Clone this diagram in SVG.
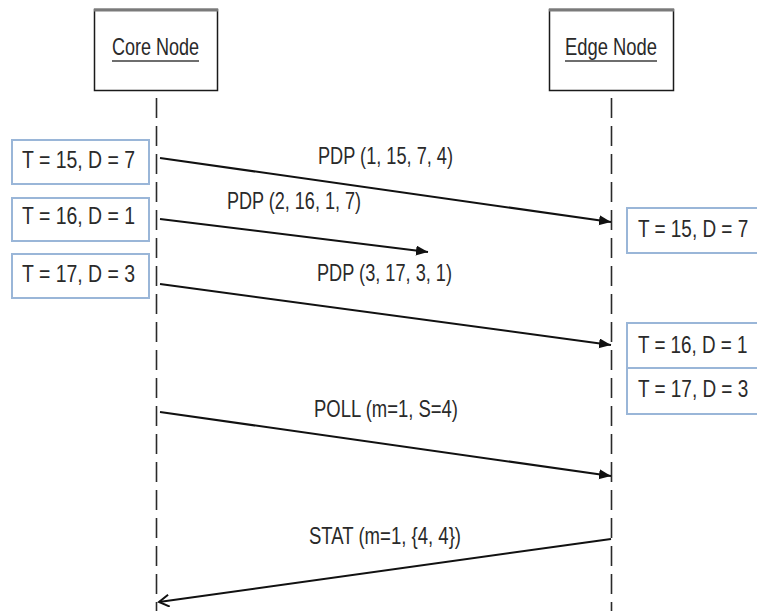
<svg xmlns="http://www.w3.org/2000/svg" width="757" height="611" viewBox="0 0 757 611">
<style>
  .lbl { font-family: "Liberation Sans Narrow","Liberation Sans",Arial,sans-serif; font-size: 24px; fill: #2a2a2a; }
  .rlbl { font-family: "Liberation Sans",Arial,sans-serif; font-size: 24px; fill: #2a2a2a; }
  .nodebox { fill: #ffffff; stroke: #1a1a1a; stroke-width: 1.5; }
  .topbar { stroke: #7a7a7a; stroke-width: 3; }
  .uline { stroke: #6e6e6e; stroke-width: 2; }
  .life { stroke: #2a2a2a; stroke-width: 1.6; stroke-dasharray: 20 8; fill: none; }
  .state { fill: #ffffff; stroke: #9ab6d8; stroke-width: 2; }
  .msg { stroke: #111111; stroke-width: 2; fill: none; }
</style>
<defs>
  <marker id="filled" markerUnits="userSpaceOnUse" markerWidth="14" markerHeight="12" refX="12" refY="5" orient="auto">
    <path d="M0,0 L12,5 L0,10 z" fill="#111111"/>
  </marker>
  <marker id="open" markerUnits="userSpaceOnUse" markerWidth="14" markerHeight="14" refX="11" refY="6" orient="auto">
    <path d="M1,0 L11,6 L1,12" fill="none" stroke="#111111" stroke-width="2"/>
  </marker>
</defs>
<rect width="757" height="611" fill="#ffffff"/>

<g id="core-node">
  <rect class="nodebox" x="94.5" y="9.5" width="123" height="81"/>
  <line class="topbar" x1="94" y1="10" x2="218" y2="10"/>
  <text class="lbl" x="112" y="55" textLength="87" lengthAdjust="spacingAndGlyphs">Core Node</text>
  <line class="uline" x1="112" y1="61" x2="199" y2="61"/>
  <line class="life" x1="156.5" y1="98" x2="156.5" y2="611"/>
</g>

<g id="edge-node">
  <rect class="nodebox" x="549.5" y="9.5" width="124" height="81"/>
  <line class="topbar" x1="549" y1="10" x2="674" y2="10"/>
  <text class="lbl" x="565" y="55" textLength="92" lengthAdjust="spacingAndGlyphs">Edge Node</text>
  <line class="uline" x1="565" y1="61" x2="657" y2="61"/>
  <line class="life" x1="611.5" y1="98" x2="611.5" y2="611"/>
</g>

<g id="core-state-1">
  <rect class="state" x="12" y="140" width="137" height="44"/>
  <text class="lbl" x="22" y="168" textLength="113" lengthAdjust="spacingAndGlyphs">T = 15, D = 7</text>
</g>
<g id="core-state-2">
  <rect class="state" x="12" y="198" width="137" height="43"/>
  <text class="lbl" x="22" y="224" textLength="113" lengthAdjust="spacingAndGlyphs">T = 16, D = 1</text>
</g>
<g id="core-state-3">
  <rect class="state" x="12" y="254" width="137" height="44"/>
  <text class="lbl" x="22" y="282" textLength="113" lengthAdjust="spacingAndGlyphs">T = 17, D = 3</text>
</g>

<g id="edge-state-1">
  <rect class="state" x="627" y="208" width="131" height="45"/>
  <text class="rlbl" transform="translate(638,237) scale(0.79,1)">T = 15, D = 7</text>
</g>
<g id="edge-state-2">
  <rect class="state" x="627" y="323" width="131" height="45"/>
  <text class="rlbl" transform="translate(638,353) scale(0.785,1)">T = 16, D = 1</text>
</g>
<g id="edge-state-3">
  <rect class="state" x="627" y="368" width="131" height="46"/>
  <text class="rlbl" transform="translate(638,397) scale(0.79,1)">T = 17, D = 3</text>
</g>

<g id="connectors">
  <line class="msg" x1="160" y1="158" x2="611" y2="222" marker-end="url(#filled)"/>
  <line class="msg" x1="160" y1="219" x2="428" y2="252" marker-end="url(#filled)"/>
  <line class="msg" x1="160" y1="284" x2="611" y2="345" marker-end="url(#filled)"/>
  <line class="msg" x1="160" y1="412" x2="611" y2="476" marker-end="url(#filled)"/>
  <line class="msg" x1="611" y1="539" x2="159" y2="602" marker-end="url(#open)"/>
  <text class="lbl" x="318" y="164" textLength="135" lengthAdjust="spacingAndGlyphs">PDP (1, 15, 7, 4)</text>
  <text class="lbl" x="227" y="209" textLength="134" lengthAdjust="spacingAndGlyphs">PDP (2, 16, 1, 7)</text>
  <text class="lbl" x="317" y="281" textLength="135" lengthAdjust="spacingAndGlyphs">PDP (3, 17, 3, 1)</text>
  <text class="lbl" x="314" y="417" textLength="144" lengthAdjust="spacingAndGlyphs">POLL (m=1, S=4)</text>
  <text class="lbl" x="309" y="544" textLength="152" lengthAdjust="spacingAndGlyphs">STAT (m=1, {4, 4})</text>
</g>
</svg>
